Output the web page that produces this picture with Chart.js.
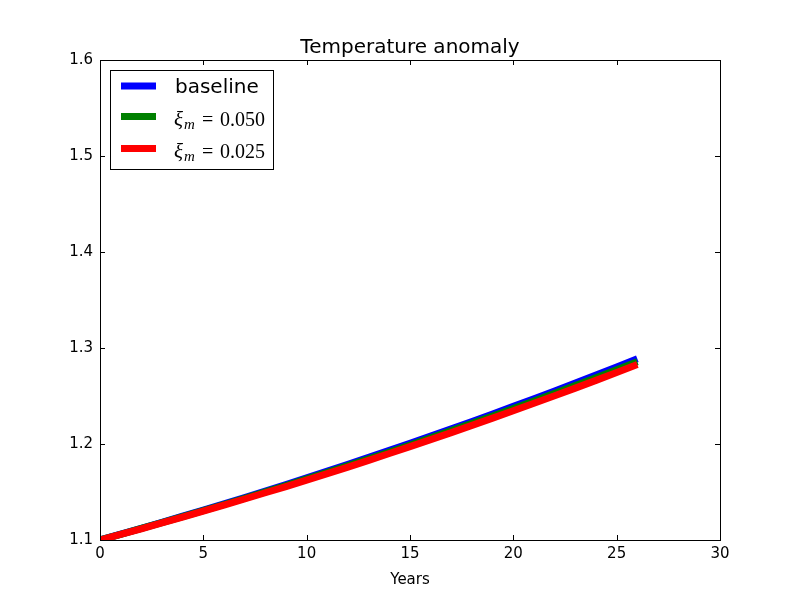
<!DOCTYPE html>
<html>
<head>
<meta charset="utf-8">
<script src="https://cdn.jsdelivr.net/npm/chart.js@4"></script>
<style>
  html, body { margin: 0; padding: 0; background: #fff; }
  #wrap { width: 800px; height: 600px; }
</style>
</head>
<body>
<div id="wrap"><canvas id="tempChart" width="800" height="600"></canvas></div>
<script>
// years and series
const years = [0,1,2,3,4,5,6,7,8,9,10,11,12,13,14,15,16,17,18,19,20,21,22,23,24,25,26];
const baseline = [1.1000,1.1060,1.1122,1.1185,1.1248,1.1312,1.1377,1.1443,1.1510,1.1578,1.1647,1.1717,1.1788,1.1860,1.1933,1.2007,1.2082,1.2158,1.2235,1.2313,1.2392,1.2472,1.2553,1.2635,1.2718,1.2802,1.2887];
const xi050 = [1.1000,1.1059,1.1120,1.1182,1.1244,1.1306,1.1370,1.1435,1.1501,1.1568,1.1636,1.1705,1.1774,1.1845,1.1917,1.1990,1.2064,1.2139,1.2215,1.2291,1.2369,1.2448,1.2528,1.2609,1.2691,1.2773,1.2857];
const xi025 = [1.1000,1.1058,1.1117,1.1178,1.1239,1.1300,1.1363,1.1427,1.1492,1.1557,1.1624,1.1692,1.1760,1.1830,1.1901,1.1972,1.2045,1.2119,1.2194,1.2269,1.2346,1.2424,1.2502,1.2582,1.2663,1.2744,1.2827];

const xTicks = [0, 5, 10, 15, 20, 25, 30];
const yTicks = [1.1, 1.2, 1.3, 1.4, 1.5, 1.6];

const legendItems = [
  { color: "#0000ff", text: "baseline", math: false },
  { color: "#008000", text: "0.050", math: true },
  { color: "#ff0000", text: "0.025", math: true }
];

function toPts(ys) {
  return years.map((x, i) => ({ x: x, y: ys[i] }));
}

// matplotlib-ish frame: inward ticks on all four sides, title, axis label, legend
const framePlugin = {
  id: "frame",
  afterDraw(chart) {
    const ctx = chart.ctx;
    const a = chart.chartArea;
    const xs = chart.scales.x, ys = chart.scales.y;
    ctx.save();
    ctx.strokeStyle = "#000";
    ctx.lineWidth = 1;
    ctx.strokeRect(a.left + 0.5, a.top + 0.5, a.right - a.left, a.bottom - a.top);
    ctx.beginPath();
    xTicks.forEach(v => {
      const px = Math.round(xs.getPixelForValue(v)) + 0.5;
      ctx.moveTo(px, a.bottom); ctx.lineTo(px, a.bottom - 5);
      ctx.moveTo(px, a.top); ctx.lineTo(px, a.top + 5);
    });
    yTicks.forEach(v => {
      const py = Math.round(ys.getPixelForValue(v)) + 0.5;
      ctx.moveTo(a.left, py); ctx.lineTo(a.left + 5, py);
      ctx.moveTo(a.right, py); ctx.lineTo(a.right - 5, py);
    });
    ctx.stroke();

    // title
    ctx.fillStyle = "#000";
    ctx.textAlign = "center";
    ctx.textBaseline = "alphabetic";
    ctx.font = "20px 'DejaVu Sans'";
    ctx.fillText("Temperature anomaly", (a.left + a.right) / 2, 53);
    // x label
    ctx.font = "15px 'DejaVu Sans'";
    ctx.fillText("Years", (a.left + a.right) / 2, 584);

    // legend
    const lx = a.left + 10, ly = a.top + 10;
    ctx.fillStyle = "#fff";
    ctx.fillRect(lx, ly, 163, 99);
    ctx.strokeRect(lx + 0.5, ly + 0.5, 163, 99);
    const rows = [86, 116.5, 148.5];
    legendItems.forEach((it, i) => {
      const y = rows[i];
      ctx.strokeStyle = it.color;
      ctx.lineWidth = 7;
      ctx.beginPath();
      ctx.moveTo(121, y); ctx.lineTo(156, y);
      ctx.stroke();
      ctx.fillStyle = "#000";
      ctx.textAlign = "left";
      if (!it.math) {
        ctx.font = "20px 'DejaVu Sans'";
        ctx.fillText(it.text, 175, y + 7);
      } else {
        const b = y + 9.5;
        ctx.font = "italic 21px 'Liberation Serif'";
        ctx.fillText("\u03be", 174, b);
        ctx.font = "italic 15px 'Liberation Serif'";
        ctx.fillText("m", 184, b + 3);
        ctx.font = "20px 'Liberation Serif'";
        ctx.fillText("=", 202, b);
        ctx.fillText(it.text, 220, b);
      }
    });
    ctx.restore();
  }
};

const config = {
  type: "line",
  data: {
    datasets: [
      { label: "baseline", data: toPts(baseline), borderColor: "#0000ff", borderWidth: 7, order: 2 },
      { label: "xi 0.050", data: toPts(xi050), borderColor: "#008000", borderWidth: 7, order: 1 },
      { label: "xi 0.025", data: toPts(xi025), borderColor: "#ff0000", borderWidth: 7, order: 0 }
    ]
  },
  options: {
    responsive: false,
    animation: false,
    parsing: false,
    layout: { padding: { top: 60, right: 80, left: 0, bottom: 0 } },
    elements: {
      point: { radius: 0 },
      line: { tension: 0, borderCapStyle: "butt", borderJoinStyle: "round" }
    },
    plugins: {
      legend: { display: false },
      title: { display: false },
      tooltip: { enabled: false }
    },
    scales: {
      x: {
        type: "linear",
        min: 0, max: 30,
        afterFit: s => { s.height = 60; },
        afterBuildTicks: s => { s.ticks = xTicks.map(v => ({ value: v })); },
        grid: { display: false, drawTicks: false },
        border: { display: false },
        ticks: { color: "#000", padding: 5, font: { family: "DejaVu Sans", size: 15 }, maxRotation: 0 }
      },
      y: {
        type: "linear",
        min: 1.1, max: 1.6,
        afterFit: s => { s.width = 100; },
        afterBuildTicks: s => { s.ticks = yTicks.map(v => ({ value: v })); },
        grid: { display: false, drawTicks: false },
        border: { display: false },
        ticks: {
          color: "#000", padding: 7,
          font: { family: "DejaVu Sans", size: 15 },
          callback: v => Number(v).toFixed(1)
        }
      }
    }
  },
  plugins: [framePlugin]
};

const tempChart = new Chart(document.getElementById("tempChart"), config);
</script>
</body>
</html>
